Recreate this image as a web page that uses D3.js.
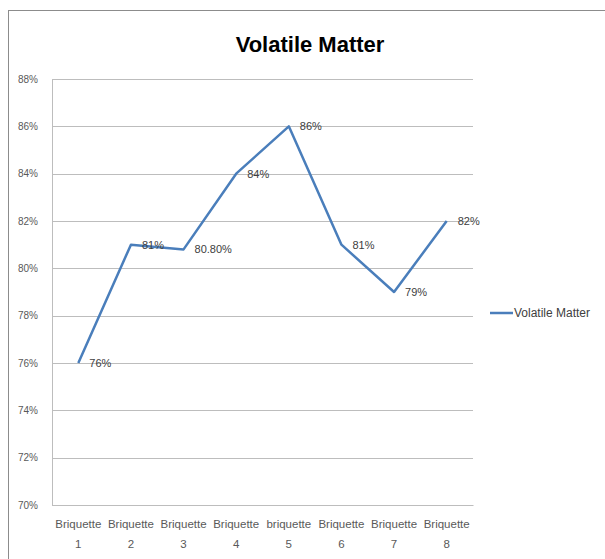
<!DOCTYPE html>
<html>
<head>
<meta charset="utf-8">
<script src="https://cdn.jsdelivr.net/npm/d3@7"></script>
<style>
  html, body { margin: 0; padding: 0; background: #fff; }
  svg { display: block; }
  text { font-family: "Liberation Sans Narrow", "Liberation Sans", "DejaVu Sans Condensed", sans-serif; }
</style>
</head>
<body>
<script>
// Volatile matter content of eight briquette samples
const categories = ["Briquette 1", "Briquette 2", "Briquette 3", "Briquette 4", "briquette 5", "Briquette 6", "Briquette 7", "Briquette 8"];
const values = [0.76, 0.81, 0.808, 0.84, 0.86, 0.81, 0.79, 0.82];
const valueLabels = ["76%", "81%", "80.80%", "84%", "86%", "81%", "79%", "82%"];
const yTicks = [0.70, 0.72, 0.74, 0.76, 0.78, 0.80, 0.82, 0.84, 0.86, 0.88];
const seriesName = "Volatile Matter";

const W = 605, H = 559;
const plot = { left: 52, right: 473, top: 79, bottom: 505 };
const lineColor = "#4a7ebb";

const svg = d3.select("body").append("svg").attr("width", W).attr("height", H);

// chart frame
svg.append("rect")
  .attr("x", 8.5).attr("y", 10.5)
  .attr("width", 640).attr("height", 600)
  .attr("fill", "#fff").attr("stroke", "#8c8c8c").attr("stroke-width", 1);

const x = d3.scaleBand().domain(categories).range([plot.left, plot.right]);
const y = d3.scaleLinear().domain([0.70, 0.88]).range([plot.bottom, plot.top]);

// horizontal gridlines
svg.append("g").selectAll("line").data(yTicks).join("line")
  .attr("x1", plot.left).attr("x2", plot.right)
  .attr("y1", d => Math.round(y(d)) + 0.5).attr("y2", d => Math.round(y(d)) + 0.5)
  .attr("stroke", "#bdbdbd").attr("stroke-width", 1);

// y axis
const yAxis = svg.append("g")
  .attr("transform", `translate(${plot.left},0)`)
  .call(d3.axisLeft(y).tickValues(yTicks).tickFormat(d3.format(".0%")).tickSize(0).tickPadding(14));
yAxis.select(".domain").attr("stroke", "#bdbdbd");
yAxis.selectAll("text").attr("font-size", 10).attr("fill", "#595959");

// x axis with two-line category labels
const xAxis = svg.append("g")
  .attr("transform", `translate(0,${plot.bottom})`)
  .call(d3.axisBottom(x).tickSize(0).tickFormat(""));
xAxis.select(".domain").attr("stroke", "#bdbdbd");
xAxis.selectAll(".tick").each(function(d) {
  const parts = d.split(" ");
  const t = d3.select(this).append("text")
    .attr("fill", "#595959").attr("font-size", 11.5).attr("text-anchor", "middle");
  t.append("tspan").attr("x", 0).attr("y", 23).text(parts[0]);
  t.append("tspan").attr("x", 0).attr("y", 43).text(parts[1]);
});

// series line
const line = d3.line()
  .x((d, i) => x(categories[i]) + x.bandwidth() / 2)
  .y(d => y(d));
svg.append("path").datum(values)
  .attr("d", line)
  .attr("fill", "none").attr("stroke", lineColor)
  .attr("stroke-width", 2.5).attr("stroke-linejoin", "round");

// data labels
svg.append("g").selectAll("text").data(values).join("text")
  .attr("x", (d, i) => x(categories[i]) + x.bandwidth() / 2 + 11)
  .attr("y", d => y(d) + 4)
  .attr("font-size", 11).attr("fill", "#404040")
  .text((d, i) => valueLabels[i]);

// title
svg.append("text")
  .attr("x", 310).attr("y", 52)
  .attr("text-anchor", "middle")
  .attr("font-size", 22).attr("font-weight", "bold").attr("fill", "#000")
  .text("Volatile Matter");

// legend
const lg = svg.append("g").attr("transform", "translate(490,313)");
lg.append("line").attr("x1", 0).attr("x2", 23).attr("y1", 0).attr("y2", 0)
  .attr("stroke", lineColor).attr("stroke-width", 2.5);
lg.append("text").attr("x", 24).attr("y", 4)
  .attr("font-size", 12).attr("fill", "#404040").text(seriesName);
</script>
</body>
</html>
